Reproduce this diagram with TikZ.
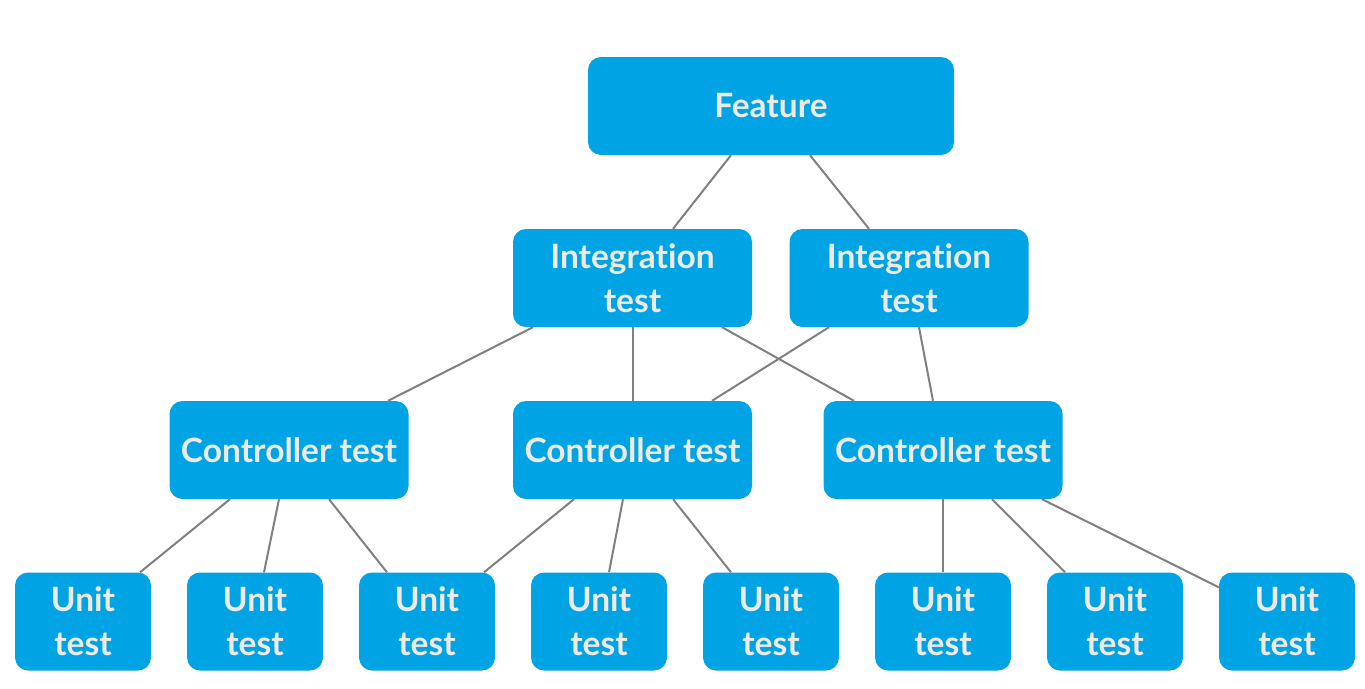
\documentclass[tikz,border=0pt]{standalone}
\usepackage{fontspec}
\setmainfont{Lato}[Ligatures=NoCommon]
\definecolor{boxblue}{HTML}{00A4E4}
\definecolor{txt}{HTML}{EEEAE4}
\definecolor{lin}{HTML}{808080}
\begin{document}
\begin{tikzpicture}[x=1pt,y=-1pt,
  box/.style={fill=boxblue,rounded corners=13pt,text=txt,align=center,
    font=\fontsize{33.5}{44}\selectfont\bfseries,inner sep=0pt},
  conn/.style={draw=lin,line width=2pt}]
\useasboundingbox (0,0) rectangle (1365,688);
\fill[white] (0,0) rectangle (1365,688);
\node[box,minimum width=366pt,minimum height=98pt] (f) at (771,106) {Feature};
\node[box,minimum width=239pt,minimum height=98pt] (i1) at (632.5,278) {Integration\\test};
\node[box,minimum width=239pt,minimum height=98pt] (i2) at (909,278) {Integration\\test};
\node[box,minimum width=239pt,minimum height=98pt] (c1) at (289,450) {Controller test};
\node[box,minimum width=239pt,minimum height=98pt] (c2) at (632.5,450) {Controller test};
\node[box,minimum width=239pt,minimum height=98pt] (c3) at (943,450) {Controller test};
\foreach \n/\x in {1/83,2/255,3/427,4/599,5/771,6/943,7/1115,8/1287}
  \node[box,minimum width=136pt,minimum height=98pt] (u\n) at (\x,621.5) {Unit\\test};
\draw[conn] ([xshift=-40pt]f.south) -- ([xshift=40.5pt]i1.north);
\draw[conn] ([xshift=39pt]f.south) -- ([xshift=-40pt]i2.north);
\draw[conn] ([xshift=-99.5pt]i1.south) -- ([xshift=99pt]c1.north);
\draw[conn] (i1.south) -- (c2.north);
\draw[conn] ([xshift=89.5pt]i1.south) -- ([xshift=-89pt]c3.north);
\draw[conn] ([xshift=-80pt]i2.south) -- ([xshift=79.5pt]c2.north);
\draw[conn] ([xshift=10pt]i2.south) -- ([xshift=-10pt]c3.north);
\draw[conn] ([xshift=-59pt]c1.south) -- ([xshift=57pt]u1.north);
\draw[conn] ([xshift=-10pt]c1.south) -- ([xshift=9pt]u2.north);
\draw[conn] ([xshift=40pt]c1.south) -- ([xshift=-40pt]u3.north);
\draw[conn] ([xshift=-58.5pt]c2.south) -- ([xshift=57pt]u3.north);
\draw[conn] ([xshift=-9.5pt]c2.south) -- ([xshift=10pt]u4.north);
\draw[conn] ([xshift=40.5pt]c2.south) -- ([xshift=-40pt]u5.north);
\draw[conn] (c3.south) -- (u6.north);
\draw[conn] ([xshift=49pt]c3.south) -- ([xshift=-50pt]u7.north);
\draw[conn] ([xshift=99pt]c3.south) -- ([yshift=-15pt]u8.north west);
\end{tikzpicture}
\end{document}
